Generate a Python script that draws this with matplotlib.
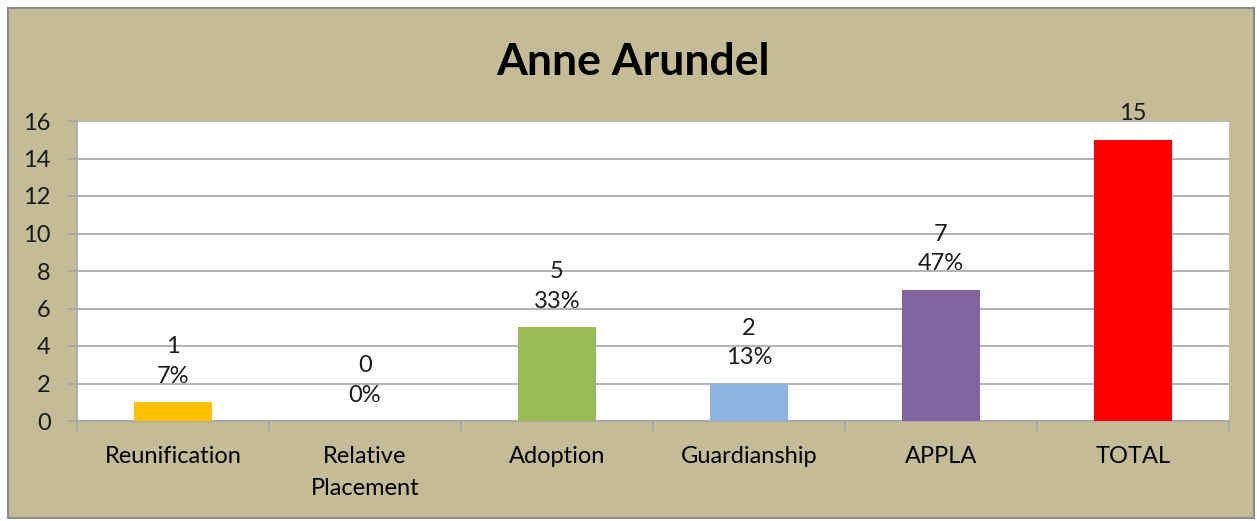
import matplotlib.pyplot as plt
from matplotlib.patches import Rectangle
import numpy as np

categories = ['Reunification', 'Relative\nPlacement', 'Adoption', 'Guardianship', 'APPLA', 'TOTAL']
counts = [1, 0, 5, 2, 7, 15]
percents = ['7%', '0%', '33%', '13%', '47%', None]
colors = ['#FFC000', '#4F81BD', '#9BBB59', '#8DB3E2', '#8064A2', '#FF0000']

plt.rcParams['font.family'] = ['Lato', 'DejaVu Sans']
plt.rcParams['font.size'] = 17

bg = '#C4BC96'
grid_c = '#A6A6A6'

fig = plt.figure(figsize = (12.57, 5.21), dpi = 100)
fig.patch.set_facecolor('white')

# Outer chart border
fig.patches.append(Rectangle((8 / 1257, 3 / 521), 1246 / 1257, 510 / 521,
                             transform = fig.transFigure, facecolor = bg,
                             edgecolor = '#8C8C8C', lw = 1.5, zorder = 0))

ax = fig.add_axes([77 / 1257, 100 / 521, 1152 / 1257, 300 / 521])
ax.set_zorder(2)
ax.set_facecolor('white')

x = np.arange(len(categories))
ax.bar(x, counts, width = 0.41, color = colors, zorder = 3)

# Data labels
for xi, c, p in zip(x, counts, percents):
    txt = f'{c}\n{p}' if p else f'{c}'
    ax.annotate(txt, (xi, c), xytext = (0, 11), textcoords = 'offset points',
                ha = 'center', va = 'bottom', fontsize = 17, color = '#1A1A1A',
                linespacing = 1.5, zorder = 4, annotation_clip = False)

ax.set_xlim(-0.5, 5.5)
ax.set_ylim(0, 16)
ax.set_yticks(np.arange(0, 17, 2))
ax.set_xticks(np.arange(-0.5, 6, 1))
ax.set_xticklabels([])
ax.set_xticks(x, minor = True)
ax.set_xticklabels(categories, minor = True)
ax.tick_params(axis = 'x', which = 'minor', length = 0, pad = 18)
ax.tick_params(axis = 'x', which = 'major', length = 7, color = grid_c, width = 1.2)
ax.tick_params(axis = 'y', length = 7, color = grid_c, width = 1.2, pad = 12)
ax.tick_params(labelcolor = '#1A1A1A', labelsize = 17)
for lbl in ax.get_xticklabels(minor = True):
    lbl.set_linespacing(1.62)
    lbl.set_verticalalignment('top')

ax.grid(axis = 'y', color = grid_c, lw = 1.2, zorder = 1)
ax.set_axisbelow(True)

# Only left and bottom axis lines
ax.spines['top'].set_visible(False)
ax.spines['right'].set_visible(False)
for s in ['left', 'bottom']:
    ax.spines[s].set_color(grid_c)
    ax.spines[s].set_linewidth(1.2)

fig.text(633 / 1257, 1 - 62 / 521, 'Anne Arundel', ha = 'center', va = 'center',
         fontsize = 32, fontweight = 'bold', color = 'black')

fig.savefig('out.png', dpi = 100, facecolor = fig.get_facecolor())
